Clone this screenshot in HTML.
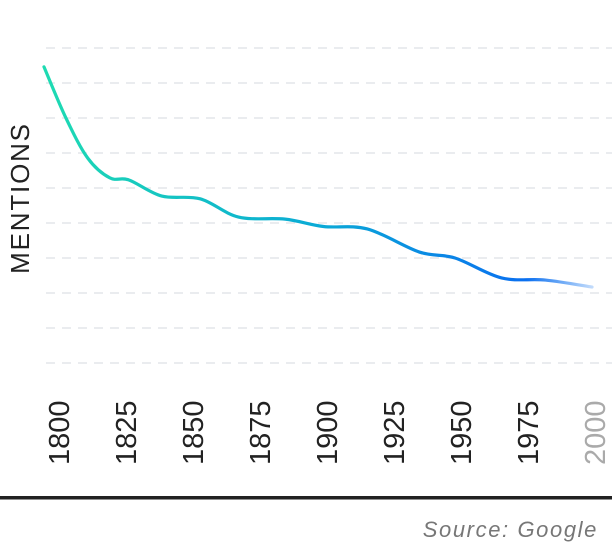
<!DOCTYPE html>
<html><head><meta charset="utf-8"><style>
html,body{margin:0;padding:0;background:#fff;}
svg{display:block;font-family:"Liberation Sans",sans-serif;}
</style></head><body>
<svg id="chart" width="612" height="544" viewBox="0 0 612 544">
<defs>
<linearGradient id="lg" x1="44" y1="0" x2="592" y2="0" gradientUnits="userSpaceOnUse">
<stop offset="0" stop-color="#1edbb2"/>
<stop offset="0.5" stop-color="#0aaad6"/>
<stop offset="0.88" stop-color="#0a6ff0"/>
<stop offset="1" stop-color="#0a6ff0" stop-opacity="0.25"/>
</linearGradient>
</defs>
<g id="grid"></g>
<path id="line" fill="none" stroke="url(#lg)" stroke-width="3.2" stroke-linecap="round"/>
<g id="xlabels"></g>
<text transform="translate(29,198) rotate(-90)" text-anchor="middle" font-size="26" letter-spacing="1.8" fill="#222">MENTIONS</text>
<rect x="0" y="496" width="612" height="3.5" fill="#222"/>
<text x="598" y="537" text-anchor="end" font-size="22" font-style="italic" letter-spacing="1.6" fill="#777">Source: Google</text>
</svg>
<script>
const years=[1800,1808,1816,1824,1831,1843,1857,1871,1888,1902,1918,1937,1950,1967,1983,2000];
const mentions=[8.46,7.0,5.85,5.29,5.23,4.77,4.69,4.17,4.11,3.9,3.83,3.17,3.0,2.43,2.37,2.17];
const gridValues=[9,8,7,6,5,4,3,2,1,0];
const tickYears=[1800,1825,1850,1875,1900,1925,1950,1975,2000];
const NS="http://www.w3.org/2000/svg";
const xScale=y=>44+(y-1800)*(592-44)/200;
const yScale=v=>363-v*35;
const labelX=y=>58+(y-1800)*2.68;
const grid=document.getElementById('grid');
gridValues.forEach(v=>{
  const l=document.createElementNS(NS,'line');
  
  
  l.setAttribute('x1',46);l.setAttribute('x2',612);
  l.setAttribute('y1',yScale(v));l.setAttribute('y2',yScale(v));
  l.setAttribute('stroke','#e3e6ea');l.setAttribute('stroke-width','1.5');
  l.setAttribute('stroke-dasharray','9 7');
  grid.appendChild(l);
});
const pts=years.map((y,i)=>[xScale(y),yScale(mentions[i])]);
let d='M'+pts[0][0]+','+pts[0][1];
for(let i=0;i<pts.length-1;i++){
  const p0=pts[i-1]||pts[i],p1=pts[i],p2=pts[i+1],p3=pts[i+2]||p2;
  const c1=[p1[0]+(p2[0]-p0[0])/6,p1[1]+(p2[1]-p0[1])/6];
  const c2=[p2[0]-(p3[0]-p1[0])/6,p2[1]-(p3[1]-p1[1])/6];
  d+=' C'+c1+' '+c2+' '+p2;
}
document.getElementById('line').setAttribute('d',d);
const xl=document.getElementById('xlabels');
tickYears.forEach((y,i)=>{
  const t=document.createElementNS(NS,'text');
  
  
  const x=labelX(y)+11;
  t.setAttribute('transform','translate('+x+',465) rotate(-90)');
  t.setAttribute('font-size','29');
  t.setAttribute('fill',i===tickYears.length-1?'#aaa':'#222');
  t.textContent=y;
  xl.appendChild(t);
});
</script>
</body></html>
